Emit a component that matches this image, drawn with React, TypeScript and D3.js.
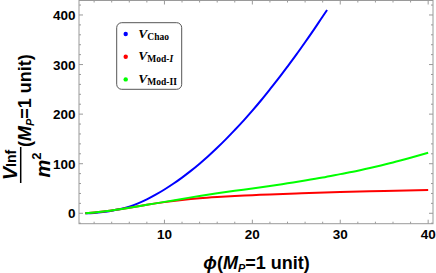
import React from "react";
import * as d3 from "d3";

const chaoPhi = [1, 2, 3, 4, 5, 6, 7, 8, 9, 10, 11, 12, 13, 14, 15, 16, 17, 18, 19, 20, 21, 22, 23, 24, 25, 26, 27, 28, 28.5];
const chaoV = [0, 0.8, 2.5, 5, 8.5, 13.5, 20, 28, 37.5, 48, 59.5, 72, 85.5, 100, 115.5, 132, 149.5, 168, 187, 207, 228, 250, 272.5, 296, 320, 345, 370.5, 397, 410];

const mod1Phi = [1, 2, 4, 6, 8, 10, 12, 14, 16, 18, 20, 22, 25, 30, 35, 40];
const mod1V = [0, 1.5, 5.5, 11, 17, 22.5, 27, 30.5, 33, 35, 36.5, 38, 40, 43, 45, 47];

const mod2Phi = [1, 2, 4, 6, 8, 10, 12, 14, 16, 18, 20, 22, 24, 26, 28, 30, 32, 34, 36, 38, 40];
const mod2V = [0, 1.5, 5.5, 11, 17, 23, 29, 35, 40.5, 45.5, 50, 55, 60.5, 66, 72, 79, 86, 94, 102.5, 112, 122];

const xMajor = [10, 20, 30, 40];
const xMinor = [2, 4, 6, 8, 12, 14, 16, 18, 22, 24, 26, 28, 32, 34, 36, 38];
const yMajor = [0, 100, 200, 300, 400];
const yMinor = [-20, 20, 40, 60, 80, 120, 140, 160, 180, 220, 240, 260, 280, 320, 340, 360, 380, 420];

const series = [
  { name: "Chao", phi: chaoPhi, v: chaoV, color: "#0000ff" },
  { name: "Mod1", phi: mod1Phi, v: mod1V, color: "#ff0000" },
  { name: "Mod2", phi: mod2Phi, v: mod2V, color: "#00ff00" },
];

export default function App() {
  const L = 79, R = 433, T = 0.5, B = 223.7;
  const x = d3.scaleLinear().domain([0.28, 40.55]).range([L, R]);
  const y = d3.scaleLinear().domain([-21, 429.2]).range([B, T]);
  const line = d3
    .line<[number, number]>()
    .x((d) => x(d[0]))
    .y((d) => y(d[1]))
    .curve(d3.curveMonotoneX);
  const frameC = "#9a9a9a";
  const font = "'Liberation Sans', Arial, sans-serif";
  const serif = "'Liberation Serif', 'Times New Roman', serif";

  const legend = [
    { color: "#0000ff", sub: [{ t: "Chao", it: false }] },
    { color: "#ff0000", sub: [{ t: "Mod-", it: false }, { t: "I", it: true }] },
    { color: "#00ff00", sub: [{ t: "Mod-II", it: false }] },
  ];

  return (
    <svg
      width={436}
      height={273}
      style={{ position: "absolute", left: 0, top: 0, background: "#fff" }}
    >
      <defs>
        <clipPath id="plotclip">
          <rect x={L} y={T} width={R - L} height={B - T} />
        </clipPath>
      </defs>
      {/* series */}
      <g clipPath="url(#plotclip)">
        {series.map((s) => (
          <path
            key={s.name}
            d={line(s.phi.map((p, i) => [p, s.v[i]] as [number, number])) || ""}
            fill="none"
            stroke={s.color}
            strokeWidth={2}
          />
        ))}
      </g>
      {/* frame */}
      <rect x={L} y={T} width={R - L} height={B - T} fill="none" stroke={frameC} strokeWidth={1} />
      {/* x ticks */}
      {xMajor.map((v) => (
        <g key={"xM" + v}>
          <line x1={x(v)} x2={x(v)} y1={B} y2={B - 4} stroke={frameC} />
          <line x1={x(v)} x2={x(v)} y1={T} y2={T + 4} stroke={frameC} />
          <text
            x={x(v)}
            y={239}
            textAnchor="middle"
            fontFamily={font}
            fontWeight="bold"
            fontSize={13.5}
          >
            {v}
          </text>
        </g>
      ))}
      {xMinor.map((v) => (
        <g key={"xm" + v}>
          <line x1={x(v)} x2={x(v)} y1={B} y2={B - 2} stroke={frameC} />
          <line x1={x(v)} x2={x(v)} y1={T} y2={T + 2} stroke={frameC} />
        </g>
      ))}
      {/* y ticks */}
      {yMajor.map((v) => (
        <g key={"yM" + v}>
          <line x1={L} x2={L + 4} y1={y(v)} y2={y(v)} stroke={frameC} />
          <line x1={R} x2={R - 4} y1={y(v)} y2={y(v)} stroke={frameC} />
          <text
            x={75.5}
            y={y(v) + 5}
            textAnchor="end"
            fontFamily={font}
            fontWeight="bold"
            fontSize={13.5}
          >
            {v}
          </text>
        </g>
      ))}
      {yMinor.map((v) => (
        <g key={"ym" + v}>
          <line x1={L} x2={L + 2} y1={y(v)} y2={y(v)} stroke={frameC} />
          <line x1={R} x2={R - 2} y1={y(v)} y2={y(v)} stroke={frameC} />
        </g>
      ))}
      {/* x label */}
      <text
        x={256.5}
        y={269}
        textAnchor="middle"
        fontFamily={font}
        fontWeight="bold"
        fontSize={18}
      >
        <tspan fontStyle="italic">ϕ</tspan>
        <tspan>(</tspan>
        <tspan fontStyle="italic">M</tspan>
        <tspan fontStyle="italic" fontSize={11} dy={3}>P</tspan>
        <tspan dy={-3}>=1 unit)</tspan>
      </text>
      {/* y label */}
      <g transform="translate(0,106.5) rotate(-90)">
        <text x={-58.5} y={16.5} textAnchor="middle" fontFamily={font} fontWeight="bold" fontSize={20}>
          <tspan fontStyle="italic">V</tspan>
          <tspan fontSize={14} dy={-1}>Inf</tspan>
        </text>
        <line x1={-76.5} x2={-40.5} y1={20.7} y2={20.7} stroke="#000" strokeWidth={1.5} />
        <text x={-58.5} y={50} textAnchor="middle" fontFamily={font} fontWeight="bold" fontSize={20}>
          <tspan fontStyle="italic">m</tspan>
          <tspan fontSize={13} dy={-9}>2</tspan>
        </text>
        <text x={-40.5} y={31} textAnchor="start" fontFamily={font} fontWeight="bold" fontSize={18}>
          <tspan>(</tspan>
          <tspan fontStyle="italic">M</tspan>
          <tspan fontStyle="italic" fontSize={11} dy={3}>P</tspan>
          <tspan dy={-3}>=1 unit)</tspan>
        </text>
      </g>
      {/* legend */}
      <rect x={116.7} y={22.7} width={65} height={66.6} rx={5} ry={5} fill="#fff" stroke="#555" strokeWidth={1} />
      {legend.map((l, i) => {
        const by = 37.5 + i * 22.7;
        return (
          <g key={"lg" + i}>
            <circle cx={125.7} cy={by - 3.5} r={2.2} fill={l.color} />
            <text x={138.3} y={by} fontFamily={serif} fontWeight="bold" fontSize={13.5}>
              <tspan fontStyle="italic">V</tspan>
              <tspan fontSize={9.5} dy={2}>
                {l.sub.map((s, j) => (
                  <tspan key={j} fontStyle={s.it ? "italic" : "normal"}>
                    {s.t}
                  </tspan>
                ))}
              </tspan>
            </text>
          </g>
        );
      })}
    </svg>
  );
}
